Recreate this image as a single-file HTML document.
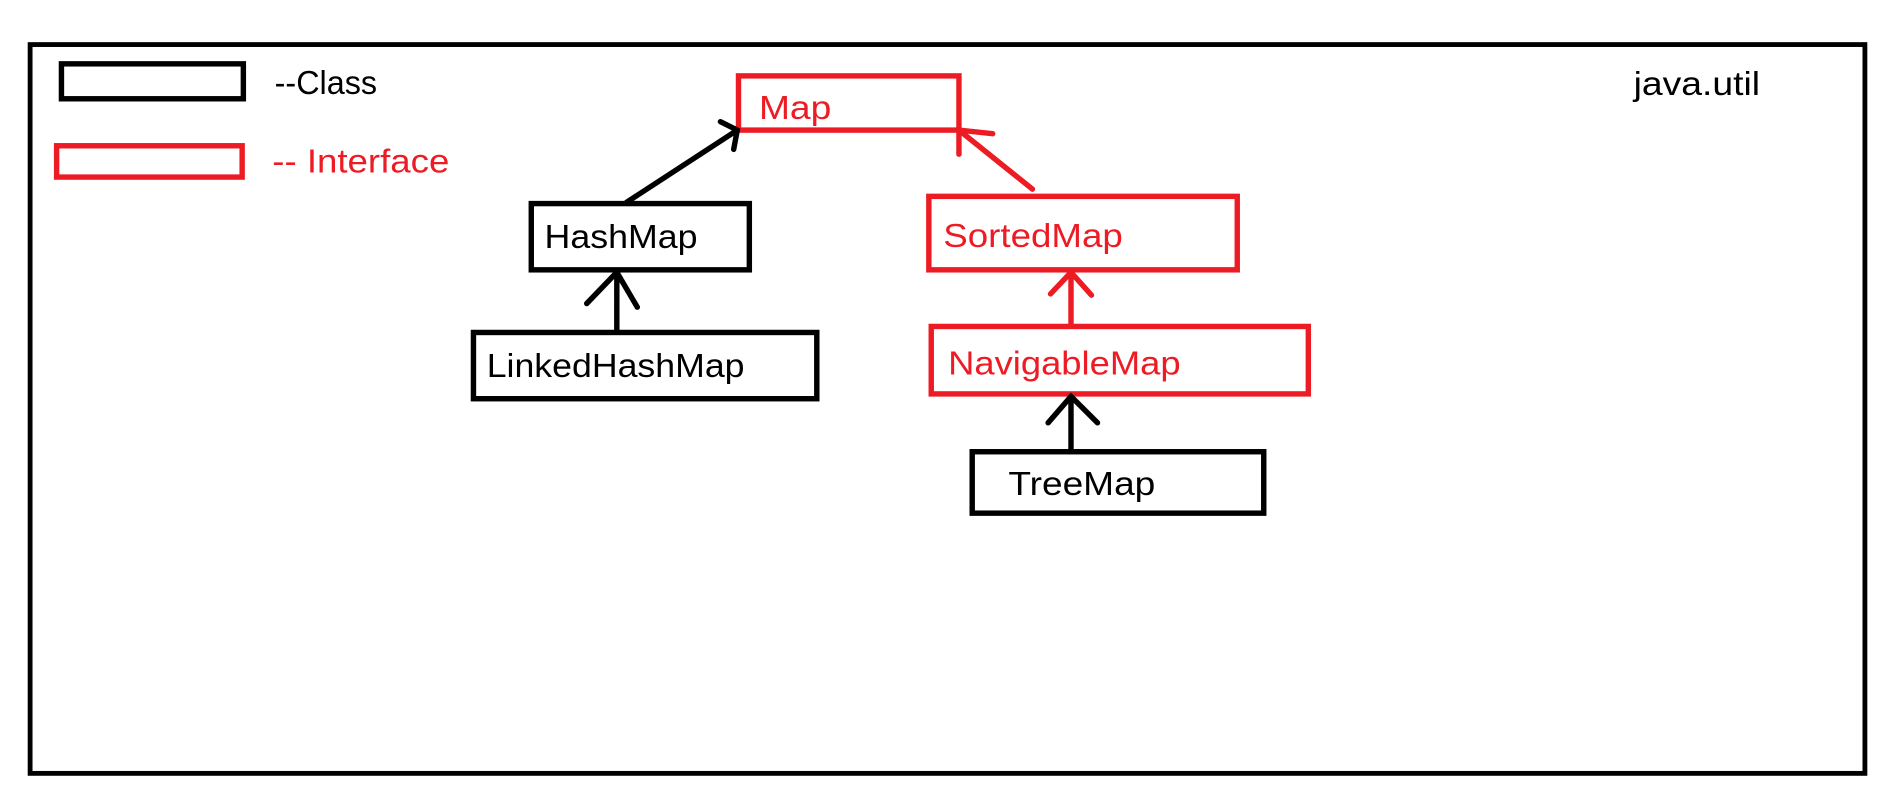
<!DOCTYPE html>
<html><head><meta charset="utf-8"><style>html,body{margin:0;padding:0;background:#fff}svg{display:block}</style></head>
<body>
<svg width="1889" height="803" viewBox="0 0 1568 666.6" preserveAspectRatio="none" xmlns="http://www.w3.org/2000/svg" font-family="Liberation Sans, sans-serif" font-size="28">
<rect x="0" y="0" width="1568" height="667" fill="#fff"/>
<rect x="25" y="37" width="1523" height="605" fill="none" stroke="#000" stroke-width="4"/>
<rect x="51" y="53" width="151" height="29" fill="none" stroke="#000" stroke-width="4.5"/>
<text x="228" y="78" fill="#000" textLength="85" lengthAdjust="spacingAndGlyphs">--Class</text>
<rect x="47" y="121" width="154" height="26" fill="none" stroke="#ed1c24" stroke-width="4.5"/>
<text x="226" y="143" fill="#ed1c24" textLength="147" lengthAdjust="spacingAndGlyphs">-- Interface</text>
<text x="1356" y="79" fill="#000" textLength="105" lengthAdjust="spacingAndGlyphs">java.util</text>

<g fill="none" stroke-width="4.5" stroke-linecap="round">
<rect x="613" y="63" width="183" height="45" stroke="#ed1c24"/>
<rect x="441" y="169" width="181" height="55" stroke="#000"/>
<rect x="393" y="276" width="285" height="55" stroke="#000"/>
<rect x="771" y="163" width="256" height="61" stroke="#ed1c24"/>
<rect x="773" y="271" width="313" height="56" stroke="#ed1c24"/>
<rect x="807" y="375" width="242" height="51" stroke="#000"/>

<path d="M520 168 L612 108 M598 101 L612 108 L609 124" stroke="#000"/>
<path d="M512 275 L512 226 M487 252 L512 226 L529 255" stroke="#000"/>
<path d="M857 157 L796 108 M796 128 L796 108 L824 111" stroke="#ed1c24"/>
<path d="M889 270 L889 226 M872 244 L889 226 L906 245" stroke="#ed1c24"/>
<path d="M889 374 L889 329 M870 351 L889 329 L911 351" stroke="#000"/>
</g>

<text x="630" y="99" fill="#ed1c24" textLength="60" lengthAdjust="spacingAndGlyphs">Map</text>
<text x="452" y="206" fill="#000" textLength="127" lengthAdjust="spacingAndGlyphs">HashMap</text>
<text x="404" y="313" fill="#000" textLength="214" lengthAdjust="spacingAndGlyphs">LinkedHashMap</text>
<text x="783" y="205" fill="#ed1c24" textLength="149" lengthAdjust="spacingAndGlyphs">SortedMap</text>
<text x="787" y="311" fill="#ed1c24" textLength="193" lengthAdjust="spacingAndGlyphs">NavigableMap</text>
<text x="837" y="411" fill="#000" textLength="122" lengthAdjust="spacingAndGlyphs">TreeMap</text>
</svg>
</body></html>
